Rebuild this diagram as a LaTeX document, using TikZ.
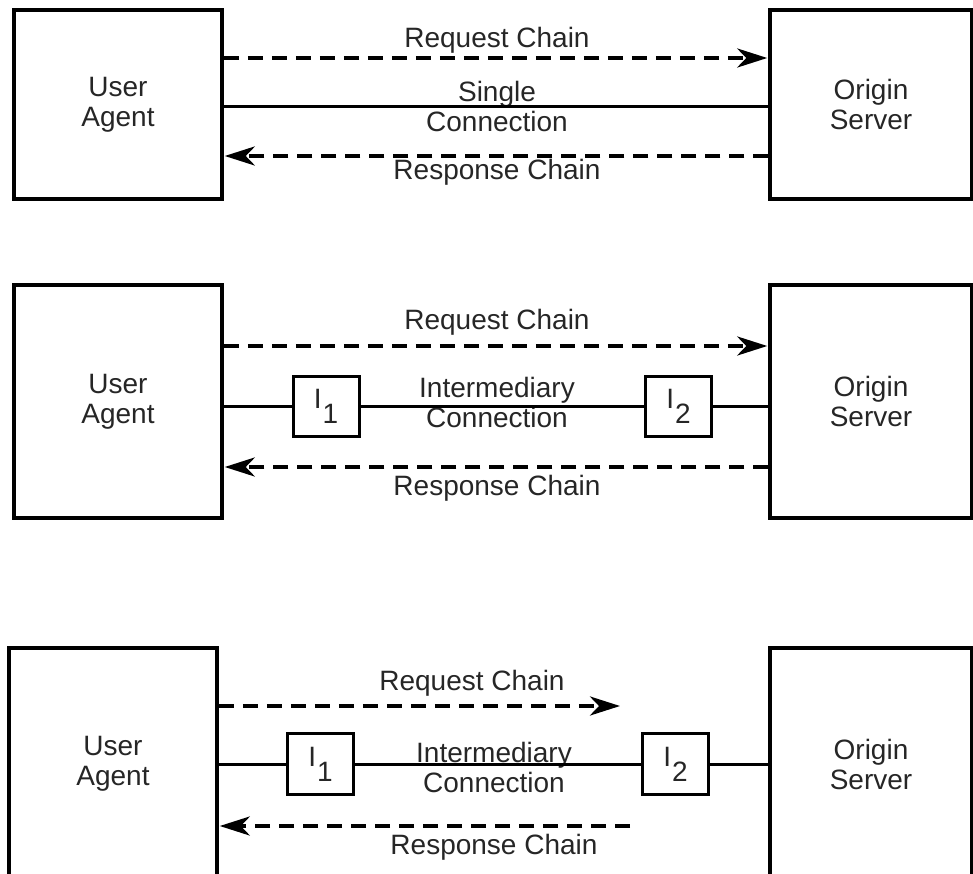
\documentclass[tikz,border=0pt]{standalone}
\usepackage{fontspec}
\setmainfont{Liberation Sans}
\usetikzlibrary{positioning,arrows.meta}

\newcommand{\ilabel}[1]{I\kern1pt\raisebox{-15pt}{#1}}

\begin{document}
\begin{tikzpicture}[
    x=1pt, y=-1pt,
    font=\fontsize{28}{30}\selectfont\color{black!85},
    box/.style={draw, line width=3.5pt, inner sep=0pt, align=center},
    ibox/.style={draw, line width=3pt, minimum width=66pt, minimum height=60pt, inner sep=0pt},
    conn/.style={line width=3pt},
    chain/.style={line width=4pt, dash pattern=on 15pt off 9pt, shorten >=1pt,
      -{Stealth[length=30pt, width=19pt, inset=9pt]}},
    lbl/.style={align=center}
  ]
  \useasboundingbox (0,0) rectangle (973,874);
  \clip (0,0) rectangle (973,874);

  % single connection
  \node (ua1) at (118,104.5) [box, minimum width=208pt, minimum height=189pt] {User\\Agent};
  \node (os1) at (871,104.5) [box, minimum width=202pt, minimum height=189pt] {Origin\\Server};
  \node (rq1) at (497,40) [lbl] {Request Chain};
  \node (sc1) at (497,106) [lbl] {Single\\Connection};
  \node (rs1) at (497,172) [lbl] {Response Chain};

  \draw[chain] (ua1.east |- 0,58) -- (os1.west |- 0,58);
  \draw[conn] (ua1.east |- 0,107) -- (os1.west |- 0,107);
  \draw[chain] (os1.west |- 0,156) -- (ua1.east |- 0,156);

  % two intermediaries
  \node (ua2) at (118,401.5) [box, minimum width=208pt, minimum height=233pt] {User\\Agent};
  \node (os2) at (871,401.5) [box, minimum width=202pt, minimum height=233pt] {Origin\\Server};
  \node (ia2) at (326,406) [ibox] {\ilabel{1}};
  \node (ib2) at (678.5,406) [ibox] {\ilabel{2}};
  \node (rq2) at (497,322) [lbl] {Request Chain};
  \node (ic2) at (497,402) [lbl] {Intermediary\\Connection};
  \node (rs2) at (497,488) [lbl] {Response Chain};

  \draw[chain] (ua2.east |- 0,346) -- (os2.west |- 0,346);
  \draw[conn] (ua2.east |- ia2) -- (ia2) -- (ib2) -- (os2.west |- ib2);
  \draw[chain] (os2.west |- 0,467) -- (ua2.east |- 0,467);

  % chains stop short
  \node (ua3) at (113,764) [box, minimum width=208pt, minimum height=232pt] {User\\Agent};
  \node (os3) at (871,764) [box, minimum width=202pt, minimum height=232pt] {Origin\\Server};
  \node (ia3) at (320.5,764) [ibox, minimum height=61pt] {\ilabel{1}};
  \node (ib3) at (675.5,764) [ibox, minimum height=61pt] {\ilabel{2}};
  \node (rq3) at (472,683) [lbl] {Request Chain};
  \node (ic3) at (494,767) [lbl] {Intermediary\\Connection};
  \node (rs3) at (494,847) [lbl] {Response Chain};
  \coordinate (rqend) at (621,706);
  \coordinate (rsstart) at (630,826);

  \draw[chain] (ua3.east |- rqend) -- (rqend);
  \draw[conn] (ua3.east |- ia3) -- (ia3) -- (ib3) -- (os3.west |- ib3);
  \draw[chain] (rsstart) -- (ua3.east |- rsstart);
\end{tikzpicture}
\end{document}
